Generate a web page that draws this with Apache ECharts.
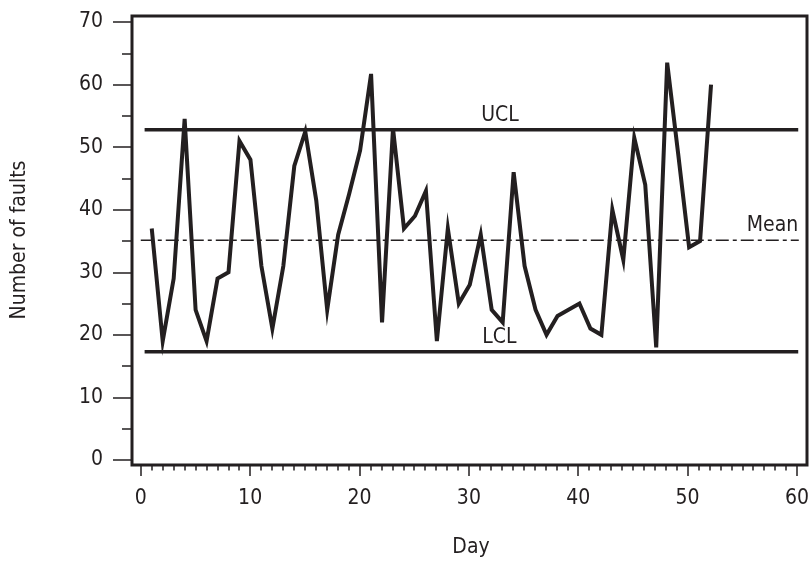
<!DOCTYPE html>
<html><head><meta charset="utf-8">
<script src="https://cdn.jsdelivr.net/npm/echarts@6/dist/echarts.min.js"></script>
<style>html,body{margin:0;padding:0;background:#fff}#c{width:812px;height:565px}</style>
</head><body><div id="c"></div>
<script>
// ---- data ----
const days = [];
for (let d = 1; d <= 52; d++) days.push(d);
const faults = [37, 19, 29, 54.5, 24, 19, 29, 30, 51, 48,
                31, 21, 31, 47, 52.5, 41.5, 24, 36, 42.5, 49.5,
                61.7, 22, 53, 37, 39, 43, 19, 37, 25, 28,
                36, 24, 22, 46, 31, 24, 20, 23, 24, 25,
                21, 20, 40, 32, 51.5, 44, 18, 63.5, 49, 34,
                35, 60];
const uclValue = 52.8;
const meanValue = 35.1;
const lclValue = 17.3;
const xTickValues = [0, 10, 20, 30, 40, 50, 60];
const yTickValues = [0, 10, 20, 30, 40, 50, 60, 70];
const controlLabels = ['UCL', 'Mean', 'LCL'];

// ---- layout ----
const INK = '#231f20';
const FONT = "'Liberation Sans Narrow', 'DejaVu Sans Condensed', 'Liberation Sans', sans-serif";
const box = {left: 132, top: 16, width: 675, height: 449};
const xMin = -0.8, xMax = 60.75, yMin = -0.8, yMax = 70.96;
const xs = box.width / (xMax - xMin), ys = box.height / (yMax - yMin);
const xT0 = xTickValues[0], xT1 = xTickValues[xTickValues.length - 1];
const yT0 = yTickValues[0], yT1 = yTickValues[yTickValues.length - 1];

const chart = echarts.init(document.getElementById('c'), null, {renderer: 'canvas'});
chart.setOption({
  animation: false,
  backgroundColor: '#fff',
  textStyle: {fontFamily: FONT, color: INK},
  grid: [
    {left: box.left, top: box.top, width: box.width, height: box.height, show: true,
     borderColor: INK, borderWidth: 3, backgroundColor: 'transparent'},
    {left: box.left + (xT0 - xMin) * xs, width: (xT1 - xT0) * xs, top: box.top, height: box.height},
    {left: box.left, width: box.width, top: box.top + (yMax - yT1) * ys, height: (yT1 - yT0) * ys}
  ],
  xAxis: [
    {gridIndex: 0, type: 'value', min: xMin, max: xMax, show: false},
    {gridIndex: 1, type: 'value', min: xT0, max: xT1, interval: 10, position: 'bottom', offset: 2,
     axisLine: {show: false},
     axisTick: {show: true, length: 11, lineStyle: {color: INK, width: 1.5}},
     minorTick: {show: true, splitNumber: 10, length: 5.5, lineStyle: {color: INK, width: 1.5}},
     splitLine: {show: false}, minorSplitLine: {show: false},
     axisLabel: {margin: 21, fontSize: 21, color: INK, fontFamily: FONT,
       formatter: v => xTickValues.includes(v) ? String(v) : ''}},
    {gridIndex: 2, type: 'value', min: 0, max: 1, show: false}
  ],
  yAxis: [
    {gridIndex: 0, type: 'value', min: yMin, max: yMax, show: false},
    {gridIndex: 1, type: 'value', min: 0, max: 1, show: false},
    {gridIndex: 2, type: 'value', min: yT0, max: yT1, interval: 10, position: 'left',
     axisLine: {show: false},
     axisTick: {show: true, length: 19, lineStyle: {color: INK, width: 1.5}},
     minorTick: {show: true, splitNumber: 2, length: 10, lineStyle: {color: INK, width: 1.5}},
     splitLine: {show: false}, minorSplitLine: {show: false},
     axisLabel: {margin: 29, fontSize: 21, color: INK, fontFamily: FONT,
       formatter: v => yTickValues.includes(v) ? String(v) : ''}}
  ],
  graphic: [
    {type: 'text', x: 471, y: 537, style: {text: 'Day', font: "21px " + FONT, fill: INK, textAlign: 'center'}},
    {type: 'text', x: 20, y: 240, rotation: Math.PI / 2,
     style: {text: 'Number of faults', font: "21px " + FONT, fill: INK, textAlign: 'center', textVerticalAlign: 'middle'}}
  ],
  series: [
    {type: 'line', xAxisIndex: 0, yAxisIndex: 0, symbol: 'none', z: 5,
     lineStyle: {color: INK, width: 4, join: 'miter', cap: 'butt'},
     data: days.map((d, i) => [d, faults[i]])},
    {type: 'line', xAxisIndex: 0, yAxisIndex: 0, symbol: 'none', z: 4,
     lineStyle: {color: INK, width: 3.5},
     data: [[0.35, uclValue], [59.95, uclValue]]},
    {type: 'line', xAxisIndex: 0, yAxisIndex: 0, symbol: 'none', z: 4,
     lineStyle: {color: INK, width: 3.5},
     data: [[0.35, lclValue], [59.95, lclValue]]},
    {type: 'line', xAxisIndex: 0, yAxisIndex: 0, symbol: 'none', z: 3,
     lineStyle: {color: INK, width: 1.5, type: [13, 4, 4, 4]},
     data: [[0, meanValue], [60, meanValue]]},
    {type: 'scatter', xAxisIndex: 0, yAxisIndex: 0, symbolSize: 0, z: 6,
     itemStyle: {opacity: 1, color: INK},
     label: {show: true, position: 'top', distance: 4, formatter: '{b}', fontSize: 21, color: INK, fontFamily: FONT, opacity: 1},
     data: [
       {name: controlLabels[0], value: [32.75, uclValue]},
       {name: controlLabels[1], value: [57.6, meanValue]},
       {name: controlLabels[2], value: [32.7, lclValue]}
     ]}
  ]
});
</script>
</body></html>
